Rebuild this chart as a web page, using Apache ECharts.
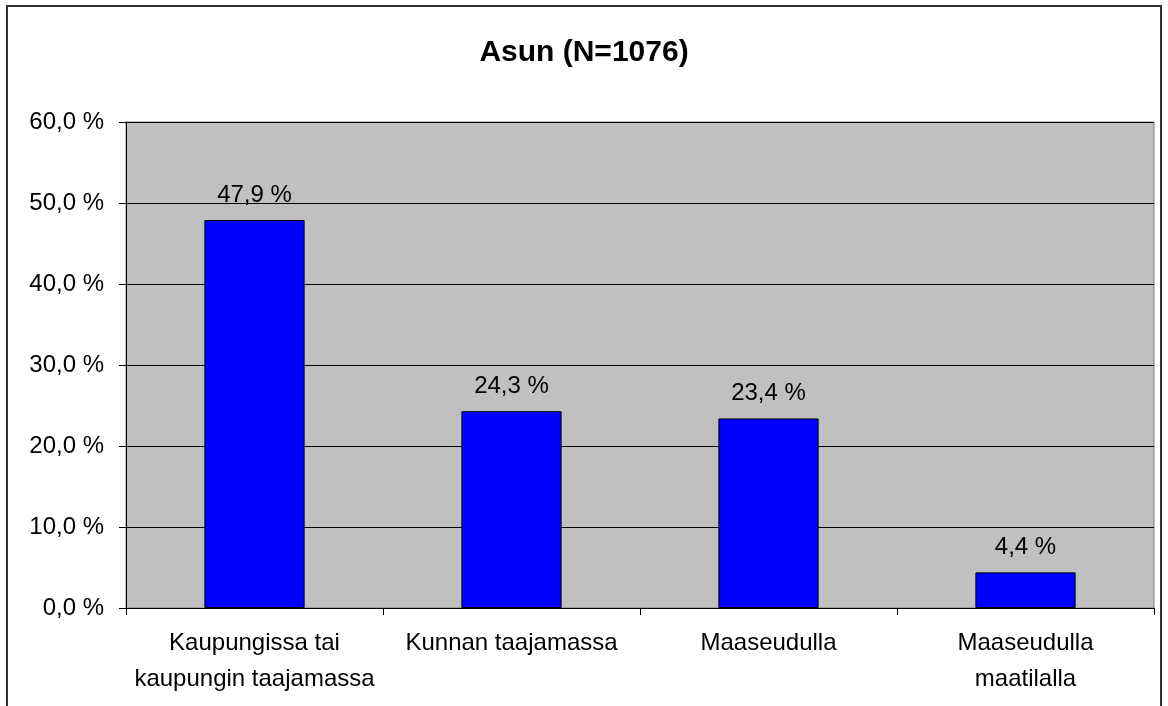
<!DOCTYPE html>
<html>
<head>
<meta charset="utf-8">
<script src="https://cdn.jsdelivr.net/npm/echarts@6/dist/echarts.min.js"></script>
<style>
  html, body { margin: 0; padding: 0; background: #fff; }
  #chart-container { width: 1168px; height: 706px; }
</style>
</head>
<body>
<div id="chart-container"></div>
<script>
var categories = ['Kaupungissa tai\nkaupungin taajamassa', 'Kunnan taajamassa', 'Maaseudulla', 'Maaseudulla\nmaatilalla'];
var values = [47.9, 24.3, 23.4, 4.4];
var yTicks = { min: 0, max: 60, interval: 10 };

function fmt(v) {
    return v.toFixed(1).replace('.', ',') + ' %';
}

var dom = document.getElementById('chart-container');
var myChart = echarts.init(dom, null, { renderer: 'canvas' });

var option = {
    backgroundColor: '#fff',
    animation: false,
    textStyle: { fontFamily: 'Liberation Sans, Arial, sans-serif' },
    title: {
        text: 'Asun (N=1076)',
        left: 'center',
        top: 33,
        textStyle: { fontSize: 30, fontWeight: 'bold', color: '#000', fontFamily: 'Liberation Sans, Arial, sans-serif' }
    },
    graphic: [
        {
            type: 'rect',
            shape: { x: 7, y: 6, width: 1154, height: 720 },
            style: { fill: 'none', stroke: '#333', lineWidth: 2 },
            silent: true
        }
    ],
    grid: {
        left: 126,
        right: 14,
        top: 122,
        bottom: 98,
        show: true,
        backgroundColor: '#c0c0c0',
        borderColor: '#808080',
        borderWidth: 1
    },
    xAxis: {
        type: 'category',
        data: categories,
        axisLine: { lineStyle: { color: '#000', width: 1 } },
        axisTick: { show: true, length: 7, lineStyle: { color: '#000' } },
        axisLabel: {
            color: '#000',
            fontSize: 24,
            lineHeight: 36,
            margin: 17,
            interval: 0
        }
    },
    yAxis: {
        type: 'value',
        min: yTicks.min,
        max: yTicks.max,
        interval: yTicks.interval,
        axisLine: { show: true, lineStyle: { color: '#000', width: 1 } },
        axisTick: { show: true, length: 7, lineStyle: { color: '#000' } },
        axisLabel: {
            color: '#000',
            fontSize: 24,
            margin: 22,
            formatter: function (v) { return fmt(v); }
        },
        splitLine: { show: true, lineStyle: { color: '#000', width: 1 } }
    },
    series: [
        {
            type: 'bar',
            data: values,
            barWidth: '39%',
            itemStyle: { color: '#0000ff', borderColor: '#000', borderWidth: 1 },
            label: {
                show: true,
                position: 'top',
                distance: 13,
                color: '#000',
                fontSize: 24,
                formatter: function (p) { return fmt(p.value); }
            }
        }
    ]
};

myChart.setOption(option);
window.addEventListener('resize', myChart.resize);
</script>
</body>
</html>
